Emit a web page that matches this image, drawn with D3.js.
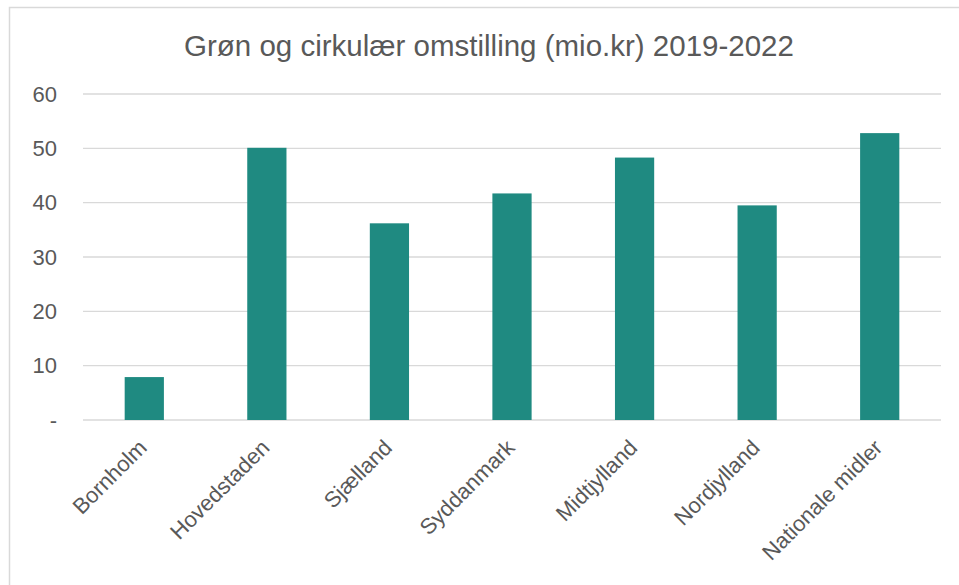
<!DOCTYPE html>
<html>
<head>
<meta charset="utf-8">
<script src="https://cdn.jsdelivr.net/npm/d3@7"></script>
<style>
  body { margin: 0; background: #fff; }
  svg { display: block; }
</style>
</head>
<body>
<svg id="chart" width="959" height="585"></svg>
<script>
// chart data
const regions = ["Bornholm", "Hovedstaden", "Sjælland", "Syddanmark", "Midtjylland", "Nordjylland", "Nationale midler"]
const values  = [7.9, 50.1, 36.2, 41.7, 48.3, 39.5, 52.8]
const yTicks  = [0, 10, 20, 30, 40, 50, 60]
const titleText = "Grøn og cirkulær omstilling (mio.kr) 2019-2022"

const svg = d3.select("#chart")
const fontFam = "'Liberation Sans', Arial, sans-serif"
const textCol = "#595959"

// outer chart frame (runs off the right and bottom edge)
svg.append("rect")
    .attr("x", 9.5).attr("y", 7.5)
    .attr("width", 1000).attr("height", 1000)
    .attr("fill", "#fff")
    .attr("stroke", "#d9d9d9")
    .attr("stroke-width", 1.5)

const plot = {left: 83, right: 941, top: 94, bottom: 420}

let x = d3.scaleBand()
    .domain(regions)
    .range([plot.left, plot.right])
    .paddingInner(0.68)
    .paddingOuter(0.34)

let y = d3.scaleLinear()
    .domain([0, 60])
    .range([plot.bottom, plot.top])

// gridlines
svg.append("g")
    .selectAll("line")
    .data(yTicks)
    .join("line")
    .attr("x1", plot.left).attr("x2", plot.right)
    .attr("y1", d => y(d)).attr("y2", d => y(d))
    .attr("stroke", "#d9d9d9")
    .attr("stroke-width", 1.3)

// y axis labels
let yAxis = d3.axisLeft(y)
    .tickValues(yTicks)
    .tickSize(0)
    .tickPadding(0)
    .tickFormat(d => d === 0 ? "-" : d)

let yG = svg.append("g")
    .attr("transform", "translate(57,0)")
    .call(yAxis)
yG.select(".domain").remove()
yG.selectAll("text")
    .attr("fill", textCol)
    .attr("font-family", fontFam)
    .attr("font-size", 22)

// bars
svg.append("g")
    .selectAll("rect")
    .data(regions)
    .join("rect")
    .attr("x", d => x(d))
    .attr("width", x.bandwidth())
    .attr("y", (d, i) => y(values[i]))
    .attr("height", (d, i) => y(0) - y(values[i]))
    .attr("fill", "#1f8a81")

// x axis labels, rotated
let xAxis = d3.axisBottom(x).tickSize(0).tickPadding(0)
let xG = svg.append("g")
    .attr("transform", `translate(0,${plot.bottom})`)
    .call(xAxis)
xG.select(".domain").remove()
xG.selectAll("text")
    .attr("fill", textCol)
    .attr("font-family", fontFam)
    .attr("font-size", 22)
    .attr("text-anchor", "end")
    .attr("dy", null)
    .attr("y", 0)
    .attr("transform", "translate(4,29) rotate(-45)")

// title
svg.append("text")
    .attr("x", 489)
    .attr("y", 56)
    .attr("text-anchor", "middle")
    .attr("fill", textCol)
    .attr("font-family", fontFam)
    .attr("font-size", 29.5)
    .text(titleText)
</script>
</body>
</html>
